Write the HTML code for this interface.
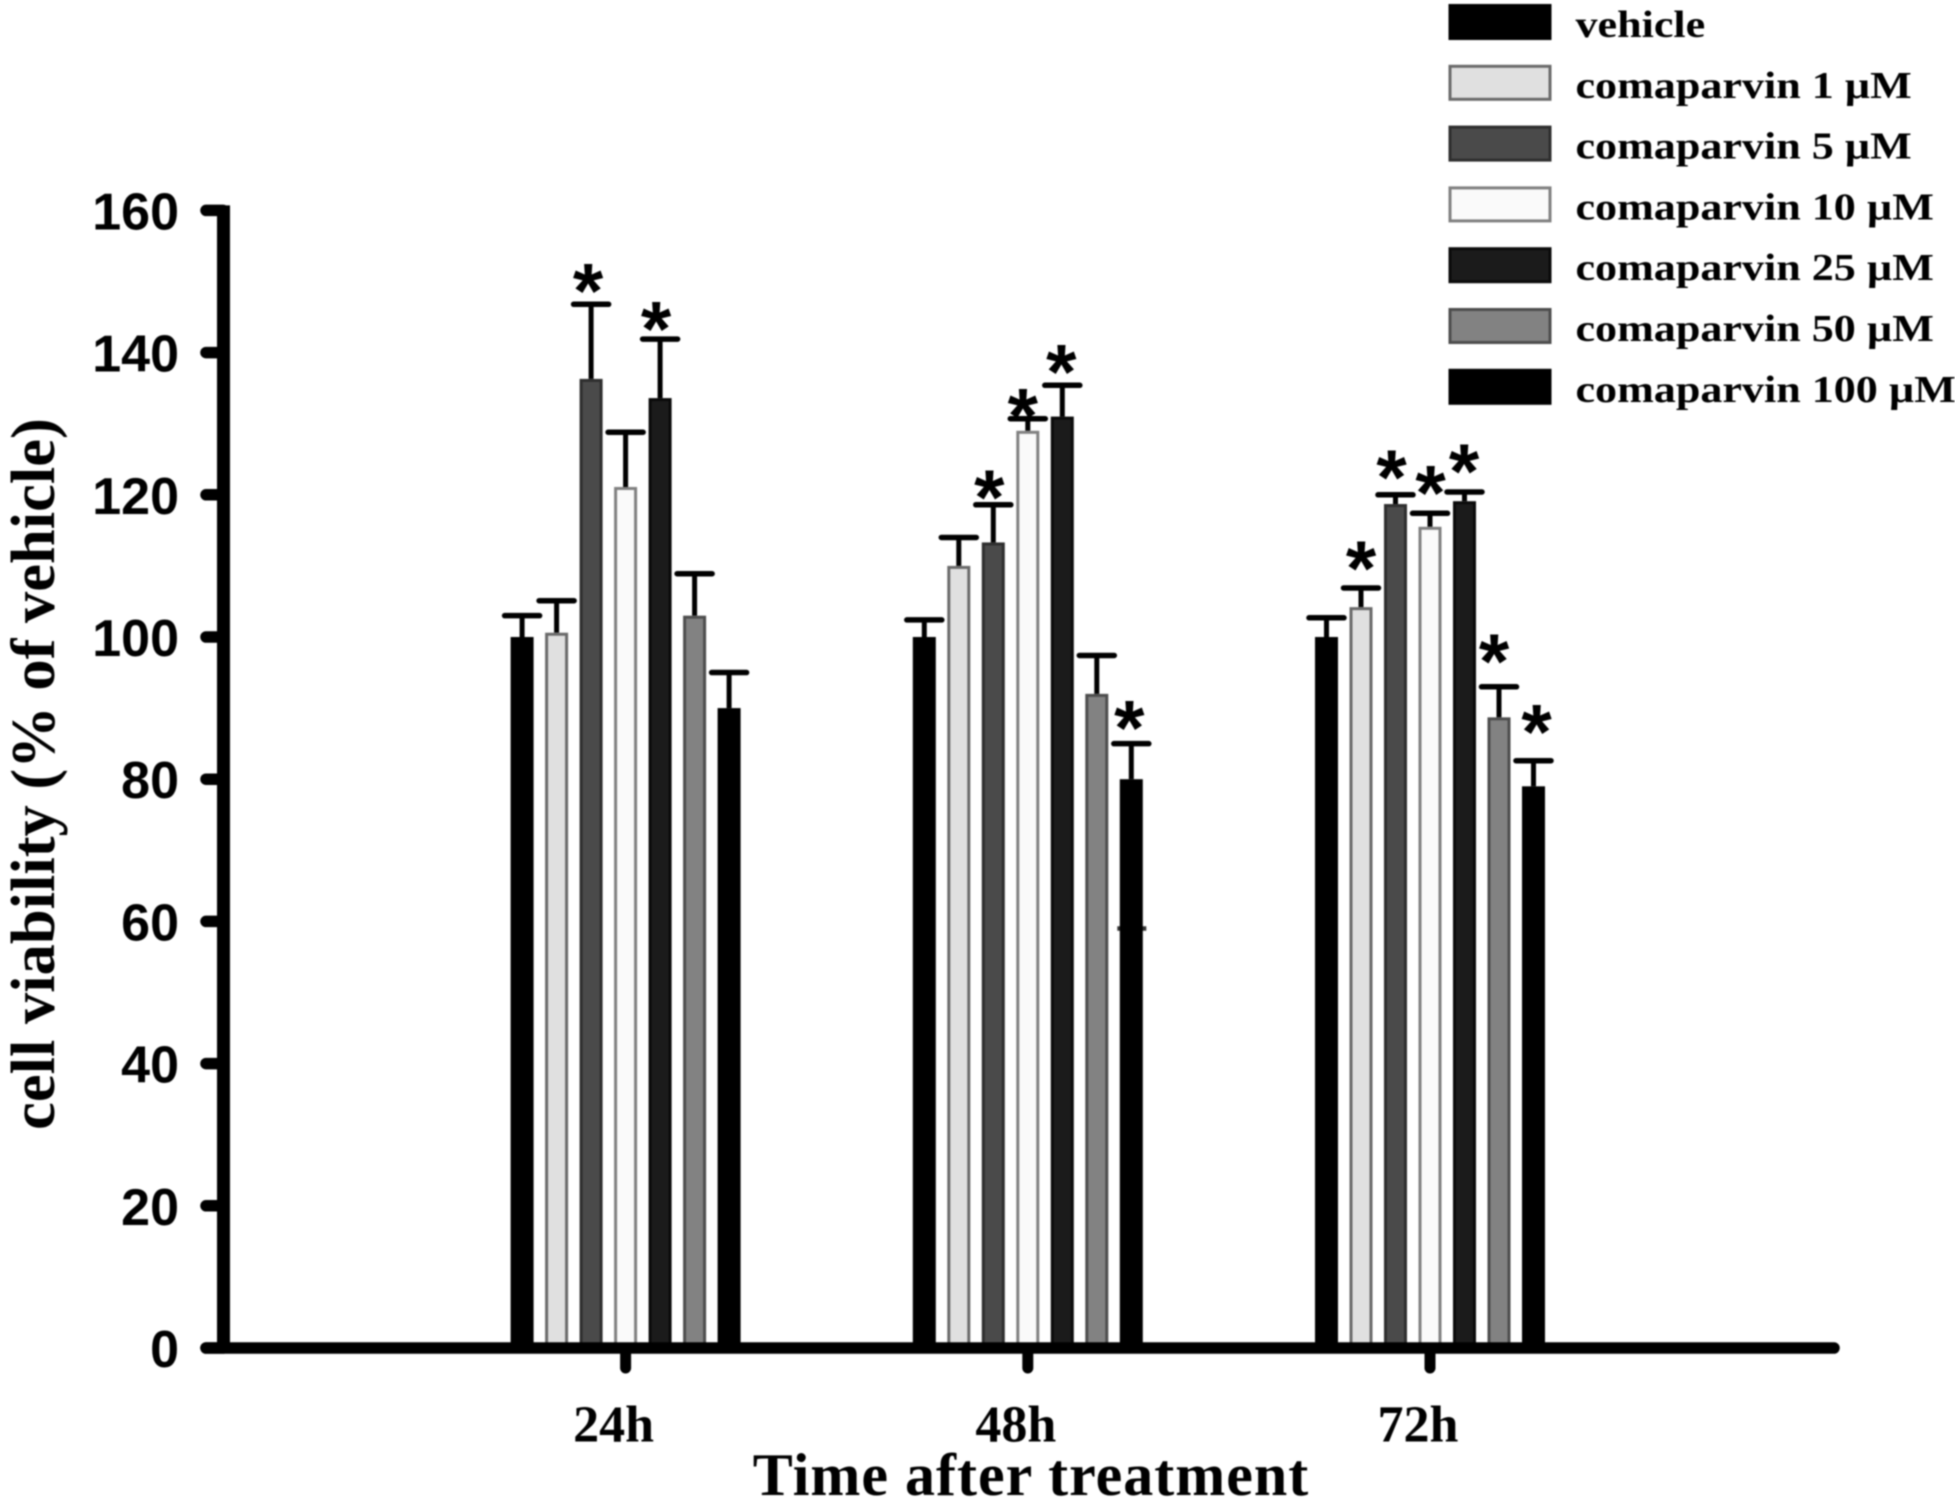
<!DOCTYPE html>
<html lang="en">
<head>
<meta charset="utf-8">
<title>Cell viability after comaparvin treatment</title>
<style>
html,body{margin:0;padding:0;background:#fff;width:1955px;height:1503px;overflow:hidden}
#chart{display:block;filter:blur(.7px)}
.serif{font-family:"Liberation Serif",serif;font-weight:bold;fill:#000}
.sans{font-family:"Liberation Sans",sans-serif;font-weight:bold;fill:#000}
</style>
</head>
<body>
<svg id="chart" xmlns="http://www.w3.org/2000/svg" width="1955" height="1503" viewBox="0 0 1955 1503">
  <rect x="0" y="0" width="1955" height="1503" fill="#fff"/>
  <g id="bars"></g>
  <g id="axes"></g>
  <g id="stars"></g>
  <text class="serif" font-size="62.5" text-anchor="middle" transform="translate(54,774) rotate(-90)">cell viability (% of vehicle)</text>
  <text class="serif" font-size="60" letter-spacing="1" text-anchor="middle" x="1031" y="1495">Time after treatment</text>
  <g id="legend"></g>
</svg>
<script>
const groupLabels = ['24h', '48h', '72h'];
const yTickLabels = [0, 20, 40, 60, 80, 100, 120, 140, 160];
const seriesNames = ['vehicle', 'comaparvin 1 µM', 'comaparvin 5 µM', 'comaparvin 10 µM', 'comaparvin 25 µM', 'comaparvin 50 µM', 'comaparvin 100 µM'];
const means24h = [100, 100.6, 136.3, 121.1, 133.6, 103, 90];
const errors24h = [3, 4.5, 10.5, 7.7, 8.3, 5.9, 5];
const means48h = [100, 110, 113.3, 129, 131, 92, 80];
const errors48h = [2.4, 4, 5.3, 1.7, 4.4, 5.4, 5];
const means72h = [100, 104.2, 118.7, 115.5, 119.1, 88.7, 79];
const errors72h = [2.7, 2.7, 1.3, 1.9, 1.3, 4.3, 3.6];
const significant24h = [2, 4];
const significant48h = [2, 3, 4, 6];
const significant72h = [1, 2, 3, 4, 5, 6];
const strayLevel48h = 59;

const meansByGroup = [means24h, means48h, means72h];
const errorsByGroup = [errors24h, errors48h, errors72h];
const significantByGroup = [significant24h, significant48h, significant72h];

/* layout and styling (not data) */
const NS = 'http://www.w3.org/2000/svg';
const fills = ['#000', '#e0e0e0', '#4a4a4a', '#fafafa', '#1b1b1b', '#828282', '#000'];
const strokes = ['#000', '#6a6a6a', '#2e2e2e', '#808080', '#0a0a0a', '#4d4d4d', '#000'];
const axisBottom = 1348, pxPerUnit = 7.11;
const firstGroupCentre = 625.6, groupPitch = 402.2, barPitch = 34.5;
const starFine = {
  '0-2': [-3, 25.7], '0-4': [-4, 22.7],
  '1-2': [-4, 20], '1-3': [-5, 15], '1-4': [-1, 26], '1-6': [-2, 28],
  '2-1': [0, 32], '2-2': [-4, 30], '2-3': [0.5, 33], '2-4': [-0.5, 33], '2-5': [-5, 38], '2-6': [3, 41]
};
const labelShift = -12;

function yScale(v) { return axisBottom - v * pxPerUnit; }
function groupX(g) { return firstGroupCentre + g * groupPitch; }
function barX(g, s) { return groupX(g) + (s - 3) * barPitch; }

function make(tag, parent, attrs) {
  const el = document.createElementNS(NS, tag);
  for (const k in attrs) el.setAttribute(k, attrs[k]);
  parent.appendChild(el);
  return el;
}

const barsLayer = document.getElementById('bars');
const axesLayer = document.getElementById('axes');
const starsLayer = document.getElementById('stars');
const legendLayer = document.getElementById('legend');

const stray = make('line', barsLayer, { x1: barX(1, 6) - 14, x2: barX(1, 6) + 15, y1: yScale(strayLevel48h), y2: yScale(strayLevel48h), stroke: '#333', 'stroke-width': 4.5 });



meansByGroup.forEach(function (means, g) {
  means.forEach(function (value, s) {
    const cx = barX(g, s);
    const top = yScale(value);
    const capY = yScale(value + errorsByGroup[g][s]);
    const stem = make('line', barsLayer, { x1: cx, x2: cx, y1: capY, y2: top, stroke: '#000', 'stroke-width': 5 });
    
    
    const cap = make('line', barsLayer, { x1: cx - 17.5, x2: cx + 17.5, y1: capY, y2: capY, stroke: '#000', 'stroke-width': 5.5, 'stroke-linecap': 'round' });
    
    
    const bar = make('rect', barsLayer, { x: cx - 10, y: top + 1.5, width: 20, height: axisBottom - top - 1.5, fill: fills[s], stroke: strokes[s], 'stroke-width': 3 });
    
    
  });
  significantByGroup[g].forEach(function (s) {
    const fine = starFine[g + '-' + s] || [0, 30];
    const capY = yScale(means[s] + errorsByGroup[g][s]);
    const star = make('text', starsLayer, { x: barX(g, s) + fine[0], y: capY - fine[1] + 39, 'font-size': 78, 'text-anchor': 'middle', class: 'sans' });
    star.textContent = '*';
    
    
  });
});

const yAxis = make('line', axesLayer, { x1: 223.5, x2: 223.5, y1: yScale(160) - 5, y2: axisBottom, stroke: '#000', 'stroke-width': 13 });


const xAxis = make('line', axesLayer, { x1: 206, x2: 1834, y1: axisBottom, y2: axisBottom, stroke: '#000', 'stroke-width': 11.5, 'stroke-linecap': 'round' });



yTickLabels.forEach(function (t) {
  const y = yScale(t);
  const tick = make('line', axesLayer, { x1: 206, x2: 223, y1: y, y2: y, stroke: '#000', 'stroke-width': 11.5, 'stroke-linecap': 'round' });
  
  
  const label = make('text', axesLayer, { x: 179, y: y + 19, 'font-size': 52, 'text-anchor': 'end', class: 'sans' });
  label.textContent = String(t);
  
  
});

groupLabels.forEach(function (name, g) {
  const x = groupX(g);
  const tick = make('line', axesLayer, { x1: x, x2: x, y1: axisBottom, y2: 1368, stroke: '#000', 'stroke-width': 11, 'stroke-linecap': 'round' });
  
  
  const label = make('text', axesLayer, { x: x + labelShift, y: 1441.5, 'font-size': 52, 'text-anchor': 'middle', class: 'serif' });
  label.textContent = name;
  
  
});

seriesNames.forEach(function (name, s) {
  const cy = 22 + s * 60.8;
  const swatch = make('rect', legendLayer, { x: 1450, y: cy - 16.5, width: 100, height: 33, fill: fills[s], stroke: strokes[s], 'stroke-width': 3 });
  
  
  const label = make('text', legendLayer, { x: 0, y: 0, 'font-size': 38, transform: 'translate(1575.5,' + (cy + 15) + ') scale(1.16,1)', class: 'serif' });
  label.textContent = name;
  
  
});
</script>
</body>
</html>
